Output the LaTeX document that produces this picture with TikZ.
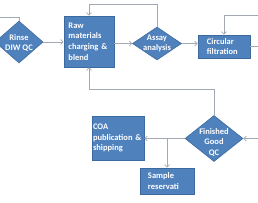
\documentclass[tikz,border=0pt]{standalone}
\usepackage{fontspec}
\setmainfont{Carlito}
\usepackage{xcolor}
\usetikzlibrary{arrows.meta,shapes.geometric,positioning,calc}
\definecolor{flowblue}{HTML}{4F81BD}
\definecolor{flowedge}{HTML}{3C6A9E}
\definecolor{flowline}{HTML}{A3A9B3}

\begin{document}
\begin{tikzpicture}[x=1pt,y=-1pt,
  font=\fontsize{8.5}{10.8}\selectfont\bfseries,
  box/.style={draw=flowedge,fill=flowblue,text=white,line width=0.6pt,inner sep=0pt,align=left},
  dia/.style={diamond,draw=flowedge,fill=flowblue,line width=0.6pt,inner sep=0pt},
  dtext/.style={text=white,align=center,inner sep=0pt},
  flow/.style={draw=flowline,line width=0.8pt},
  tip/.style={flow,-{Straight Barb[length=2.5pt,width=5pt]}}]
  \useasboundingbox (0,0) rectangle (258,202);
  \clip (0,0) rectangle (258,202);
  % process boxes
  \node[box,minimum width=50pt,minimum height=51pt,text width=41pt] (raw) at (89,41.5)
    {Raw\\materials\\charging \&\\blend};
  \node[box,minimum width=52pt,minimum height=23pt,text width=34pt] (circ) at (224,46.5)
    {Circular\\filtration};
  \node[box,minimum width=52pt,minimum height=44pt,text width=50pt] (coa) at (118,138)
    {COA\\publication \&\\shipping};
  \node[box,minimum width=54pt,minimum height=26pt,text width=38pt] (sample) at (167,181)
    {Sample\\reservati};
  % decisions
  \node[dia,minimum width=48pt,minimum height=42pt,label={[dtext,yshift=-1pt]center:Rinse\\DIW QC}]
    (rinse) at (19,42) {};
  \node[dia,minimum width=49pt,minimum height=33pt,label={[dtext]center:Assay\\analysis}]
    (assay) at (157,43.5) {};
  \node[dia,minimum width=58pt,minimum height=46pt,label={[dtext,yshift=-4pt]center:Finished\\Good\\QC}]
    (fgqc) at (214,138.5) {};
  % loose ends at the border
  \coordinate (inL) at (-2,17);
  \coordinate (inR) at (260,15);
  \coordinate (outR) at (260,46.5);
  \coordinate (inFG) at (260,138.5);
  \coordinate (split) at (167,138.5);
  % connectors
  \draw[flow] (inL) -| (rinse.north);
  \draw[tip] (rinse.east) -- (raw.west |- rinse.east);
  \draw[tip] (raw.east |- assay.west) -- (assay.west);
  \draw[tip] (assay.north) -- ++(0,-22) -| (raw.north);
  \draw[tip] (assay.east) -- (circ.west |- assay.east);
  \draw[tip] (inR) -| (circ.north);
  \draw[flow] (circ.east) -- (outR);
  \draw[tip] (inFG) -- (fgqc.east);
  \draw[tip] (fgqc.north) -- ++(0,-25.5) -| (raw.south);
  \draw[tip] (fgqc.west) -- (coa.east |- fgqc.west);
  \draw[tip] (split) -- (sample.north);
\end{tikzpicture}
\end{document}
